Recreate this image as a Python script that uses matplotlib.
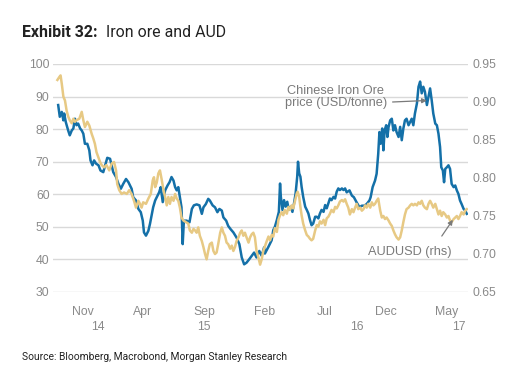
import numpy as np
import matplotlib
matplotlib.use("Agg")
import matplotlib.pyplot as plt
import matplotlib.transforms as mtransforms

# days since 1 Nov 2014, iron ore price (USD/tonne)
iron_day = [-47, -43, -38, -34, -32, -28, -22, -18, -13, -9, -5, -1, 3, 8, 12, 16, 20, 26, 31, 34,
            39, 43, 48, 54, 59, 66, 73, 76, 83, 87, 91, 98, 104, 110, 116, 123, 129, 133, 137, 141,
            148, 154, 160, 165, 168, 173, 179, 183, 187, 191, 196, 200, 206, 210, 215, 221, 227, 232, 237, 242,
            246, 250, 254, 258, 262, 265, 268, 275, 282, 288, 293, 300, 307, 313, 317, 323, 329, 333, 340, 346,
            352, 357, 363, 367, 374, 379, 385, 392, 400, 407, 413, 419, 425, 432, 438, 444, 450, 457, 463, 469,
            471, 480, 488, 492, 496, 501, 506, 509, 511, 515, 519, 523, 527, 531, 536, 540, 544, 548, 552, 554,
            557, 560, 563, 567, 572, 576, 580, 584, 588, 592, 597, 601, 605, 609, 613, 618, 622, 626, 630, 634,
            638, 643, 647, 651, 655, 659, 664, 668, 672, 676, 683, 689, 694, 701, 708, 714, 720, 726, 733, 736,
            741, 747, 751, 755, 758, 761, 765, 768, 771, 775, 778, 781, 785, 789, 793, 797, 801, 806, 810, 814,
            818, 822, 826, 831, 835, 839, 843, 847, 852, 856, 860, 864, 868, 872, 877, 881, 885, 889, 893, 898,
            902, 906, 910, 913, 917, 920, 923, 927, 931, 935, 939, 944, 948, 952, 956, 960, 964, 969, 973, 977]
iron_px = [87.4, 83.8, 85.3, 82.7, 84.8, 82.2, 79.6, 78.1, 79.6, 80.2, 83.2, 81.2, 81.7, 80.2, 79.6, 78.6, 75.5, 75.5, 73.5, 70.4,
           68.9, 70.4, 69.4, 68.9, 67.3, 66.8, 69.9, 71.2, 70.9, 68.9, 66.8, 65.3, 63.2, 61.7, 63.2, 64.7, 63.7, 62.7, 61.7, 59.1,
           58.1, 55.5, 54.5, 51.9, 48.3, 47.3, 48.8, 50.9, 53.4, 56.0, 58.1, 59.1, 60.6, 62.2, 57.6, 61.2, 62.7, 63.7, 65.3, 64.2,
           62.2, 61.2, 62.2, 59.1, 56.0, 44.7, 51.9, 51.9, 51.4, 55.5, 56.6, 56.9, 56.6, 54.0, 56.0, 57.0, 58.6, 58.1, 56.6, 56.0,
           54.5, 55.5, 55.0, 52.9, 51.9, 50.3, 49.3, 48.3, 46.7, 44.7, 40.6, 38.5, 39.0, 40.1, 41.1, 42.1, 40.6, 42.6, 41.1, 43.7,
           41.8, 43.9, 45.9, 49.0, 50.0, 52.1, 54.6, 63.3, 59.2, 55.2, 58.2, 56.2, 57.7, 55.2, 56.2, 54.6, 57.2, 60.3, 65.4, 70.0,
           66.4, 65.4, 62.3, 59.2, 56.2, 55.2, 54.1, 52.1, 50.5, 51.0, 53.1, 53.1, 52.6, 54.1, 55.2, 54.6, 56.7, 55.7, 57.2, 58.7,
           58.2, 59.2, 58.7, 60.8, 61.8, 61.3, 61.8, 61.3, 61.8, 60.6, 61.2, 59.6, 59.1, 57.5, 56.0, 56.5, 56.5, 57.0, 58.1, 59.1,
           62.2, 64.2, 66.3, 72.4, 79.1, 75.5, 80.2, 73.5, 79.6, 81.2, 77.6, 80.7, 82.7, 83.2, 79.6, 81.2, 79.1, 77.6, 80.7, 76.6,
           80.2, 82.7, 83.2, 81.2, 82.2, 83.2, 81.2, 84.8, 87.9, 93.0, 94.6, 91.0, 93.0, 91.5, 87.4, 89.9, 92.5, 88.9, 84.8, 81.7,
           81.2, 78.6, 74.5, 68.3, 67.3, 63.7, 67.8, 68.3, 68.9, 67.8, 63.2, 62.2, 62.7, 61.2, 60.1, 58.1, 57.0, 55.5, 55.0, 54.0]

# days since 1 Nov 2014, AUDUSD
aud_day = [-49, -44, -41, -38, -34, -30, -26, -22, -18, -13, -9, -5, -1, 6, 12, 16, 20, 26, 31, 37,
           41, 45, 49, 54, 58, 62, 68, 74, 81, 87, 93, 98, 101, 106, 112, 118, 125, 131, 137, 143,
           148, 154, 158, 162, 166, 173, 179, 185, 190, 193, 196, 200, 204, 208, 212, 217, 221, 225, 229, 233,
           237, 242, 246, 250, 254, 258, 262, 267, 273, 279, 283, 288, 292, 296, 300, 304, 308, 313, 317, 321,
           325, 329, 333, 338, 342, 346, 350, 354, 359, 363, 367, 371, 375, 379, 384, 388, 392, 396, 400, 405,
           409, 413, 417, 421, 425, 430, 434, 438, 442, 446, 450, 455, 459, 463, 467,
           471, 475, 480, 484, 488, 492, 496, 501, 505, 509, 513, 517, 521, 526, 530, 534, 538, 542, 547, 551,
           553, 557, 560, 563, 567, 572, 576, 580, 584, 588, 592, 597, 601, 605, 609, 613, 618, 622, 626, 630,
           634, 638, 643, 647, 651, 655, 659, 664, 668, 672,
           676, 680, 684, 689, 693, 697, 701, 705, 710, 714, 718, 722, 726, 730, 735, 739, 743, 747, 751, 755,
           760, 764, 768, 772, 776, 781, 785, 789, 793, 797, 801, 806, 810, 814, 818, 822, 826, 831, 835, 839,
           843, 847, 852, 856, 860, 864, 868, 872, 877, 881, 885, 889, 893, 898, 902, 906, 910, 914, 918, 923,
           927, 931, 935, 939, 944, 948, 952, 956, 960, 964, 969, 973, 977]
aud_fx = [0.929, 0.933, 0.935, 0.924, 0.907, 0.902, 0.889, 0.881, 0.876, 0.872, 0.878, 0.874, 0.876, 0.878, 0.887, 0.876, 0.867, 0.874, 0.869, 0.858,
          0.852, 0.845, 0.834, 0.827, 0.821, 0.817, 0.814, 0.817, 0.810, 0.819, 0.821, 0.810, 0.792, 0.784, 0.779, 0.781, 0.779, 0.784, 0.779, 0.770,
          0.761, 0.770, 0.766, 0.761, 0.768, 0.766, 0.773, 0.779, 0.797, 0.801, 0.788, 0.794, 0.806, 0.810, 0.799, 0.784, 0.775, 0.764, 0.775, 0.766,
          0.775, 0.770, 0.779, 0.773, 0.770, 0.761, 0.748, 0.744, 0.742, 0.740, 0.731, 0.728, 0.733, 0.731, 0.728, 0.735, 0.724, 0.717, 0.709, 0.700,
          0.693, 0.704, 0.713, 0.715, 0.704, 0.700, 0.702, 0.713, 0.728, 0.735, 0.728, 0.724, 0.715, 0.713, 0.707, 0.711, 0.704, 0.709, 0.717, 0.722,
          0.728, 0.731, 0.724, 0.728, 0.722, 0.715, 0.722, 0.726, 0.728, 0.722, 0.704, 0.695, 0.686, 0.693, 0.704,
          0.710, 0.716, 0.723, 0.718, 0.725, 0.723, 0.734, 0.729, 0.745, 0.751, 0.755, 0.751, 0.758, 0.753, 0.762, 0.758, 0.764, 0.760, 0.771, 0.780,
          0.782, 0.775, 0.762, 0.751, 0.740, 0.731, 0.725, 0.723, 0.720, 0.718, 0.720, 0.731, 0.738, 0.736, 0.743, 0.740, 0.745, 0.738, 0.747, 0.749,
          0.753, 0.758, 0.755, 0.762, 0.760, 0.764, 0.769, 0.771, 0.769, 0.772,
          0.766, 0.761, 0.752, 0.759, 0.755, 0.761, 0.766, 0.759, 0.761, 0.757, 0.759, 0.764, 0.761, 0.766, 0.761, 0.768, 0.764, 0.766, 0.770, 0.773,
          0.757, 0.748, 0.750, 0.746, 0.748, 0.744, 0.740, 0.737, 0.731, 0.726, 0.722, 0.719, 0.722, 0.731, 0.742, 0.752, 0.759, 0.761, 0.764, 0.766,
          0.764, 0.766, 0.764, 0.768, 0.766, 0.770, 0.764, 0.761, 0.759, 0.766, 0.770, 0.766, 0.761, 0.766, 0.759, 0.752, 0.757, 0.750, 0.755, 0.752,
          0.748, 0.750, 0.744, 0.742, 0.746, 0.748, 0.750, 0.746, 0.750, 0.755, 0.752, 0.757, 0.759]

month_ticks = ['2014-11-15', '2015-04-15', '2015-09-15', '2016-02-15', '2016-07-15', '2016-12-15', '2017-05-15']
month_labels = ['Nov', 'Apr', 'Sep', 'Feb', 'Jul', 'Dec', 'May']
year_pos = ['2014-12-24', '2015-09-15', '2016-10-03', '2017-06-16']
year_labels = ['14', '15', '16', '17']

base = np.datetime64('2014-11-01')
iron_dates = base + np.array(iron_day).astype('timedelta64[D]')
aud_dates = base + np.array(aud_day).astype('timedelta64[D]')

BLUE = '#1470a8'
TAN = '#e7c984'
GREY = '#8a8a8a'
GRID = '#d9d9d9'

fig = plt.figure(figsize=(5.19, 3.84), dpi=100)
ax = fig.add_axes([53 / 519, 1 - 292 / 384, (468 - 53) / 519, 228 / 384])
ax2 = ax.twinx()

ax.plot(iron_dates, iron_px, color=BLUE, lw=1.8, solid_joinstyle='round')
ax2.plot(aud_dates, aud_fx, color=TAN, lw=1.8, solid_joinstyle='round')

ax.set_ylim(30, 100)
ax2.set_ylim(0.65, 0.95)
ax.set_yticks(np.arange(30, 101, 10))
ax2.set_yticks(np.arange(0.65, 0.951, 0.05))
ax2.set_yticklabels([f'{v:.2f}' for v in np.arange(0.65, 0.951, 0.05)])
ax.set_xlim(base - np.timedelta64(60, 'D'), base + np.timedelta64(980, 'D'))

ax.grid(axis='y', color=GRID, lw=1.0)
ax.set_axisbelow(True)
for a in (ax, ax2):
    for s in a.spines.values():
        s.set_visible(False)
    a.tick_params(length=0, colors=GREY, labelsize=8.8)
    for lab in a.get_yticklabels() + a.get_xticklabels():
        lab.set_fontfamily('Liberation Sans')
ax.tick_params(axis='y', pad=2.5)
ax2.tick_params(axis='y', pad=3)

ax.set_xticks(np.array(month_ticks, dtype='datetime64[D]'))
ax.set_xticklabels(month_labels, fontfamily='Liberation Sans')
ax.tick_params(axis='x', pad=10)

trans = mtransforms.blended_transform_factory(ax.transData, ax.transAxes)
for d, lab in zip(year_pos, year_labels):
    ax.text(np.datetime64(d), -0.155, lab, transform=trans, ha='center', va='center',
            color=GREY, fontsize=8.8, fontfamily='Liberation Sans')

ax2.annotate('Chinese Iron Ore\nprice (USD/tonne)', xy=(np.datetime64('2017-03-27'), 0.902),
             xytext=(np.datetime64('2016-08-11'), 0.906), ha='center', va='center',
             color='#7a7a7a', fontsize=9.2, fontfamily='Liberation Sans', linespacing=1.0,
             arrowprops=dict(arrowstyle='-|>', color='#7a7a7a', lw=0.9, mutation_scale=7,
                             shrinkA=2, shrinkB=0, relpos=(1.0, 0.3)))
ax2.annotate('AUDUSD (rhs)', xy=(np.datetime64('2017-05-31'), 0.745),
             xytext=(np.datetime64('2017-02-13'), 0.703), ha='center', va='center',
             color='#7a7a7a', fontsize=9.2, fontfamily='Liberation Sans',
             arrowprops=dict(arrowstyle='-|>', color='#7a7a7a', lw=0.9, mutation_scale=7,
                             shrinkA=6, shrinkB=0, relpos=(0.8, 1.0)))

t1 = fig.text(22 / 519, 1 - 37 / 384, 'Exhibit 32:', fontsize=11.4, fontweight='bold',
              fontfamily='Roboto', color='#222222', va='baseline')
ax.annotate('  Iron ore and AUD', xy=(1, 0), xycoords=t1, va='bottom', ha='left',
            fontsize=11.4, fontfamily='Roboto', color='#222222', annotation_clip=False)

fig.text(22 / 519, 1 - 357 / 384, 'Source: Bloomberg, Macrobond, Morgan Stanley Research',
         fontsize=7.4, fontfamily='Roboto', color='#222222', va='center')

fig.savefig('out.png', dpi=100)
